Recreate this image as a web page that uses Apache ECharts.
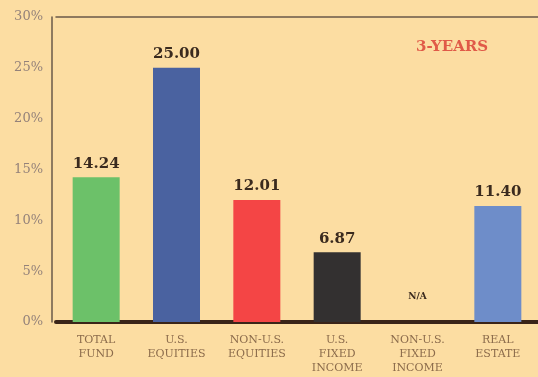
<!DOCTYPE html>
<html>
<head>
<meta charset="utf-8">
<script src="https://cdn.jsdelivr.net/npm/echarts@6/dist/echarts.min.js"></script>
<style>
  html, body { margin: 0; padding: 0; background: #FCDDA2; }
  #chart { width: 538px; height: 377px; }
</style>
</head>
<body>
<div id="chart"></div>
<script>
// Three-year returns by asset class (percent); null = not available
const categories = ['TOTAL\nFUND', 'U.S.\nEQUITIES', 'NON-U.S.\nEQUITIES', 'U.S.\nFIXED\nINCOME', 'NON-U.S.\nFIXED\nINCOME', 'REAL\nESTATE'];
const returns = [14.24, 25.00, 12.01, 6.87, null, 11.40];
const barColors = ['#6CC169', '#4A62A0', '#F44545', '#333030', '#333030', '#6E8DC9'];
const yTicks = [0, 5, 10, 15, 20, 25, 30];
const periodLabel = '3-YEARS';

const serif = 'DejaVu Serif';

const seriesData = returns.map((v, i) => {
  if (v === null) {
    return {
      value: 0,
      itemStyle: { color: barColors[i] },
      label: { formatter: 'N/A', fontSize: 9, distance: 21 }
    };
  }
  return { value: v, itemStyle: { color: barColors[i] } };
});

const chart = echarts.init(document.getElementById('chart'), null, { renderer: 'canvas' });
chart.setOption({
  backgroundColor: '#FCDDA2',
  animation: false,
  title: {
    text: periodLabel,
    left: 411, top: 35,
    textStyle: { fontFamily: serif, fontWeight: 'bold', fontSize: 15, color: '#E05A48' }
  },
  grid: { left: 56, right: -5, top: 17, bottom: 55 },
  xAxis: [{
    type: 'category',
    data: categories,
    axisLine: { lineStyle: { color: '#3A2418', width: 4 } },
    axisTick: { show: false },
    axisLabel: {
      interval: 0, margin: 11,
      fontFamily: serif, fontSize: 11, lineHeight: 14,
      color: '#8C6C4C'
    }
  }, {
    type: 'category',
    data: categories,
    position: 'top',
    axisLine: { lineStyle: { color: '#6A5848', width: 1.5 } },
    axisTick: { show: false },
    axisLabel: { show: false }
  }],
  yAxis: {
    type: 'value',
    min: yTicks[0], max: yTicks[yTicks.length - 1], interval: 5,
    offset: 4,
    axisLine: { show: true, lineStyle: { color: '#6A5848', width: 1.5 } },
    axisTick: { show: false },
    splitLine: { show: false },
    axisLabel: {
      margin: 9,
      fontFamily: serif, fontSize: 13,
      color: '#94827A',
      formatter: v => v + '%'
    }
  },
  series: [{
    type: 'bar',
    data: seriesData,
    barWidth: 47,
    label: {
      show: true, position: 'top', distance: 6,
      fontFamily: serif, fontWeight: 'bold', fontSize: 15,
      color: '#3A2A1E',
      formatter: p => p.value.toFixed(2)
    }
  }]
});
</script>
</body>
</html>
